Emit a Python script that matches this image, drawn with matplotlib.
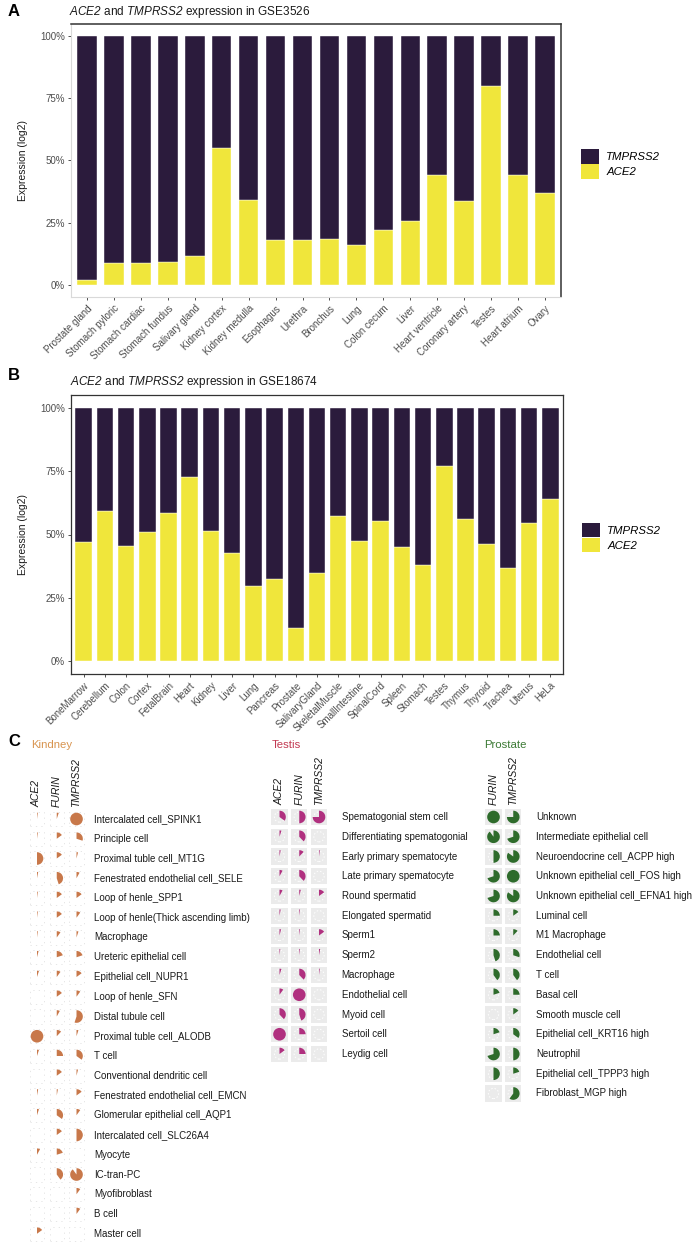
import matplotlib
matplotlib.use('Agg')
import matplotlib.pyplot as plt
from matplotlib.patches import Wedge, Rectangle, Circle, Patch
import numpy as np

plt.rcParams['font.family'] = ['Liberation Sans', 'DejaVu Sans']
plt.rcParams['mathtext.fontset'] = 'custom'
plt.rcParams['mathtext.it'] = 'Liberation Sans:italic'
plt.rcParams['mathtext.rm'] = 'Liberation Sans:italic'
plt.rcParams['mathtext.default'] = 'it'

# ---------------- data ----------------
tissues_a = ['Prostate gland', 'Stomach pyloric', 'Stomach cardiac', 'Stomach fundus',
             'Salivary gland', 'Kidney cortex', 'Kidney medulla', 'Esophagus', 'Urethra',
             'Bronchus', 'Lung', 'Colon cecum', 'Liver', 'Heart ventricle',
             'Coronary artery', 'Testes', 'Heart atrium', 'Ovary']
ace2_a = [0.02, 0.085, 0.085, 0.09, 0.115, 0.55, 0.34, 0.18, 0.18, 0.185, 0.16,
          0.22, 0.255, 0.44, 0.335, 0.80, 0.44, 0.37]

tissues_b = ['BoneMarrow', 'Cerebellum', 'Colon', 'Cortex', 'FetalBrain', 'Heart', 'Kidney',
             'Liver', 'Lung', 'Pancreas', 'Prostate', 'SalivaryGland', 'SkeletalMuscle',
             'SmallIntestine', 'SpinalCord', 'Spleen', 'Stomach', 'Testes', 'Thymus',
             'Thyroid', 'Trachea', 'Uterus', 'HeLa']
ace2_b = [0.472, 0.591, 0.456, 0.508, 0.583, 0.728, 0.515, 0.427, 0.297, 0.324, 0.132,
          0.348, 0.571, 0.475, 0.552, 0.452, 0.378, 0.771, 0.563, 0.463, 0.369, 0.545, 0.638]

kidney_cells = ['Intercalated cell_SPINK1', 'Principle cell', 'Proximal tuble cell_MT1G',
                'Fenestrated endothelial cell_SELE', 'Loop of henle_SPP1',
                'Loop of henle(Thick ascending limb)', 'Macrophage', 'Ureteric epithelial cell',
                'Epithelial cell_NUPR1', 'Loop of henle_SFN', 'Distal tubule cell',
                'Proximal tuble cell_ALODB', 'T cell', 'Conventional dendritic cell',
                'Fenestrated endothelial cell_EMCN', 'Glomerular epithelial cell_AQP1',
                'Intercalated cell_SLC26A4', 'Myocyte', 'IC-tran-PC', 'Myofibroblast',
                'B cell', 'Master cell']
kidney_genes = ['ACE2', 'FURIN', 'TMPRSS2']
kidney_ace2 = [0.02, 0.02, 0.5, 0.03, 0.02, 0.02, 0.02, 0.04, 0.05, 0.0, 0.0,
               1.0, 0.05, 0.0, 0.03, 0.05, 0.0, 0.08, 0.0, 0.0, 0.0, 0.15]
kidney_furin = [0.05, 0.15, 0.15, 0.45, 0.15, 0.15, 0.1, 0.2, 0.1, 0.15, 0.08,
                0.12, 0.25, 0.15, 0.03, 0.35, 0.15, 0.2, 0.4, 0.0, 0.0, 0.0]
kidney_tmprss2 = [1.0, 0.3, 0.04, 0.08, 0.15, 0.1, 0.05, 0.2, 0.15, 0.1, 0.55,
                  0.05, 0.35, 0.04, 0.15, 0.1, 0.5, 0.0, 0.9, 0.1, 0.1, 0.0]

testis_cells = ['Spematogonial stem cell', 'Differentiating spematogonial',
                'Early primary spematocyte', 'Late primary spematocyte', 'Round spermatid',
                'Elongated spermatid', 'Sperm1', 'Sperm2', 'Macrophage', 'Endothelial cell',
                'Myoid cell', 'Sertoil cell', 'Leydig cell']
testis_genes = ['ACE2', 'FURIN', 'TMPRSS2']
testis_ace2 = [0.35, 0.05, 0.03, 0.08, 0.08, 0.03, 0.04, 0.02, 0.05, 0.1, 0.38, 1.0, 0.15]
testis_furin = [0.5, 0.38, 0.12, 0.38, 0.04, 0.02, 0.02, 0.02, 0.38, 1.0, 0.45, 0.25, 0.25]
testis_tmprss2 = [0.75, 0.0, 0.02, 0.0, 0.15, 0.0, 0.15, 0.03, 0.02, 0.0, 0.0, 0.0, 0.0]

prostate_cells = ['Unknown', 'Intermediate epithelial cell', 'Neuroendocrine cell_ACPP high',
                  'Unknown epithelial cell_FOS high', 'Unknown epithelial cell_EFNA1 high',
                  'Luminal cell', 'M1 Macrophage', 'Endothelial cell', 'T cell', 'Basal cell',
                  'Smooth muscle cell', 'Epithelial cell_KRT16 high', 'Neutrophil',
                  'Epithelial cell_TPPP3 high', 'Fibroblast_MGP high']
prostate_genes = ['FURIN', 'TMPRSS2']
prostate_furin = [1.0, 0.9, 0.5, 0.7, 0.7, 0.25, 0.25, 0.45, 0.4, 0.2, 0.0, 0.2, 0.7, 0.5, 0.0]
prostate_tmprss2 = [0.75, 0.7, 0.85, 1.0, 0.85, 0.15, 0.12, 0.3, 0.4, 0.25, 0.15, 0.35, 0.5, 0.2, 0.6]

# ---------------- figure ----------------
W, H = 696, 1242
fig = plt.figure(figsize=(W / 100, H / 100), dpi=100)


def box(l, t, r, b):
    return [l / W, 1 - b / H, (r - l) / W, (b - t) / H]


C_DARK = '#2b1b3c'
C_YEL = '#f0e63b'
TXT = '#4d4d4d'


def bar_panel(rect, cats, ace2, width, leg_anchor, full_frame):
    ax = fig.add_axes(box(*rect))
    x = np.arange(len(cats))
    ace2 = np.array(ace2)
    ax.bar(x, ace2, width, color=C_YEL, edgecolor='white', linewidth=0.3)
    ax.bar(x, 1 - ace2, width, bottom=ace2, color=C_DARK, edgecolor='white', linewidth=0.3)
    ax.set_xlim(-0.6, len(cats) - 0.4)
    ax.set_ylim(-0.05, 1.05)
    ax.set_yticks([0, 0.25, 0.5, 0.75, 1.0])
    ax.set_yticklabels(['0%', '25%', '50%', '75%', '100%'])
    ax.set_xticks(x)
    ax.set_xticklabels(cats, rotation=45, ha='right', va='top', rotation_mode='anchor')
    ax.tick_params(axis='both', labelsize=7, labelcolor=TXT, color='#333333',
                   length=2.5, width=0.6, pad=2)
    ax.set_ylabel('Expression (log2)', fontsize=7.5, color='#1a1a1a')
    ax.yaxis.set_label_coords(-0.088, 0.5)
    if full_frame:
        for s in ax.spines.values():
            s.set_color('#333333')
            s.set_linewidth(0.9)
    else:
        ax.spines['top'].set_color('#333333')
        ax.spines['right'].set_color('#333333')
        ax.spines['top'].set_linewidth(1.1)
        ax.spines['right'].set_linewidth(1.1)
        ax.spines['left'].set_color('#d9d9d9')
        ax.spines['bottom'].set_color('#d9d9d9')
        ax.spines['left'].set_linewidth(0.8)
        ax.spines['bottom'].set_linewidth(0.8)
    handles = [Patch(facecolor=C_DARK, edgecolor='none'), Patch(facecolor=C_YEL, edgecolor='none')]
    leg = ax.legend(handles, ['TMPRSS2', 'ACE2'], loc='center left', bbox_to_anchor=leg_anchor,
                    frameon=False, fontsize=8.2, handlelength=1.6, handleheight=1.6,
                    labelspacing=0.05, handletextpad=0.6, borderpad=0, borderaxespad=0)
    for t in leg.get_texts():
        t.set_style('italic')
    return ax


# Panel A
fig.text(8 / W, 1 - 12 / H, 'A', fontsize=12, fontweight='bold', va='center', ha='left')
fig.text(69 / W, 1 - 12 / H, r'$ACE2$ and $TMPRSS2$ expression in GSE3526',
         fontsize=8.5, va='center', ha='left', color='#1a1a1a')
bar_panel((71, 24, 561, 297), tissues_a, ace2_a, 0.72, (1.041, 0.487), False)

# Panel B
fig.text(8 / W, 1 - 375 / H, 'B', fontsize=12, fontweight='bold', va='center', ha='left')
fig.text(70 / W, 1 - 382 / H, r'$ACE2$ and $TMPRSS2$ expression in GSE18674',
         fontsize=8.5, va='center', ha='left', color='#1a1a1a')
bar_panel((71, 395, 563, 674), tissues_b, ace2_b, 0.78, (1.039, 0.489), True)

# Panel C
fig.text(8 / W, 1 - 742 / H, 'C', fontsize=12, fontweight='bold', va='center', ha='left')

U = 19.75
R = 0.32


def pie_panel(col0, row0, label_off, genes, fracs, cells, color, title, title_x, title_color,
              tile):
    ncol, nrow = len(genes), len(cells)
    l = col0 - U / 2
    t = row0 - U / 2
    ax = fig.add_axes(box(l, t, l + ncol * U, t + nrow * U))
    ax.set_xlim(-0.5, ncol - 0.5)
    ax.set_ylim(-(nrow - 0.5), 0.5)
    ax.axis('off')
    for ci, fr in enumerate(fracs):
        for ri, f in enumerate(fr):
            cx, cy = ci, -ri
            if tile:
                ax.add_patch(Rectangle((cx - 0.41, cy - 0.41), 0.82, 0.82,
                                       facecolor='#ebebeb', edgecolor='none'))
                ax.add_patch(Circle((cx, cy), 0.26, facecolor='none', edgecolor='white',
                                    linewidth=0.7, linestyle=(0, (1.5, 2))))
            else:
                ax.add_patch(Rectangle((cx - 0.36, cy - 0.36), 0.72, 0.72,
                                       facecolor='none', edgecolor='#e2e2e2',
                                       linewidth=0.6, linestyle=(0, (1.5, 5))))
            if f >= 0.999:
                ax.add_patch(Circle((cx, cy), R, facecolor=color, edgecolor='none'))
            elif f > 0:
                ax.add_patch(Wedge((cx, cy), R, 90 - 360 * f, 90, facecolor=color,
                                   edgecolor='none'))
    for ri, c in enumerate(cells):
        ax.text(ncol - 1 + label_off, -ri, c, va='center', ha='left', fontsize=7,
                color='#1a1a1a', clip_on=False)
    for ci, g in enumerate(genes):
        ax.text(ci, 0.62, g, rotation=90, ha='center', va='bottom', style='italic',
                fontsize=7.5, color='#1a1a1a', clip_on=False)
    fig.text(title_x / W, 1 - 745 / H, title, fontsize=8.2, color=title_color,
             va='center', ha='left')


pie_panel(37, 819, 0.9, kidney_genes, [kidney_ace2, kidney_furin, kidney_tmprss2],
          kidney_cells, '#c8784a', 'Kindney', 31, '#d8944f', False)
pie_panel(279.5, 817, 1.15, testis_genes, [testis_ace2, testis_furin, testis_tmprss2],
          testis_cells, '#b0307f', 'Testis', 272, '#c23a52', True)
pie_panel(493.5, 817, 1.15, prostate_genes, [prostate_furin, prostate_tmprss2],
          prostate_cells, '#2e6b2b', 'Prostate', 484, '#3c7a35', True)

fig.savefig('out.png', dpi=100)
